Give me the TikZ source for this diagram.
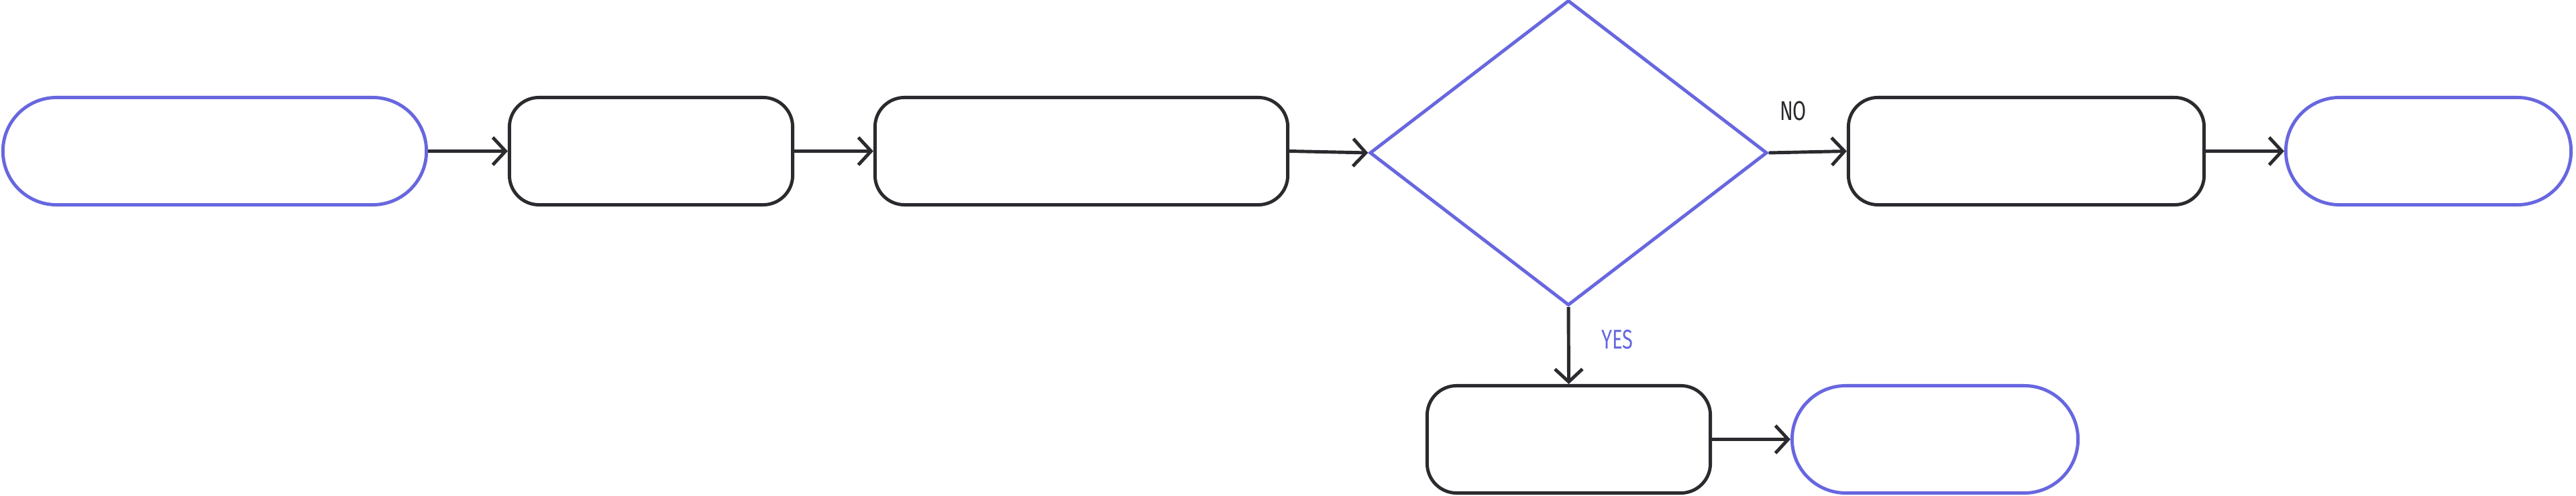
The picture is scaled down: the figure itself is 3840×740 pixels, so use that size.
\documentclass[tikz,border=0pt]{standalone}
\usepackage{fontspec}
\newfontfamily\lblfont[FakeStretch=0.72]{Fira Sans}
\usetikzlibrary{arrows.meta,shapes.misc,shapes.geometric}
\definecolor{ink}{HTML}{2B2A2E}
\definecolor{accent}{HTML}{6767E0}
\tikzset{
  box/.style={draw=ink, line width=1.4pt, rounded corners=0.44cm, minimum height=1.6cm, inner sep=0pt},
  pill/.style={draw=accent, line width=1.4pt, rounded rectangle, minimum height=1.6cm, inner sep=0pt},
  flow/.style={draw=ink, line width=1.4pt, -{Straight Barb[length=0.19cm, width=0.41cm, line width=1.4pt]}},
  tag/.style={font=\lblfont\fontsize{11.5}{12}\selectfont, inner sep=0pt}
}
\begin{document}
\begin{tikzpicture}[x=0.01cm, y=-0.01cm]
    \useasboundingbox (0,0) rectangle (3840,740);
    \node[pill, minimum width=6.31cm] (start) at (320,225.5) {};
    \node[box, minimum width=4.22cm] (prep) at (970.5,225.5) {};
    \node[box, minimum width=6.15cm] (work) at (1612,225.5) {};
    \node[draw=accent, line width=1.4pt, diamond, inner sep=0pt, minimum width=5.92cm, minimum height=4.55cm] (check) at (2338,228) {};
    \node[box, minimum width=5.30cm] (retry) at (3020.5,225.5) {};
    \node[pill, minimum width=4.25cm] (stopno) at (3620,225.5) {};
    \node[box, minimum width=4.22cm] (accept) at (2338.5,655.5) {};
    \node[pill, minimum width=4.26cm] (stopyes) at (2884.5,655.5) {};
    % connectors
    \draw[flow] (start) -- (prep);
    \draw[flow] (prep) -- (work);
    \draw[flow] (work.east) -- (check.west);
    \draw[flow] (check.east) -- (retry.west);
    \draw[flow] (retry) -- (stopno);
    \draw[flow] (check.south) -- (accept.north);
    \draw[flow] (accept) -- (stopyes);
    % branch labels
    \node[tag, text=ink] (nolbl) at (2673,166) {NO};
    \node[tag, text=accent] (yeslbl) at (2411,507) {YES};
\end{tikzpicture}
\end{document}
